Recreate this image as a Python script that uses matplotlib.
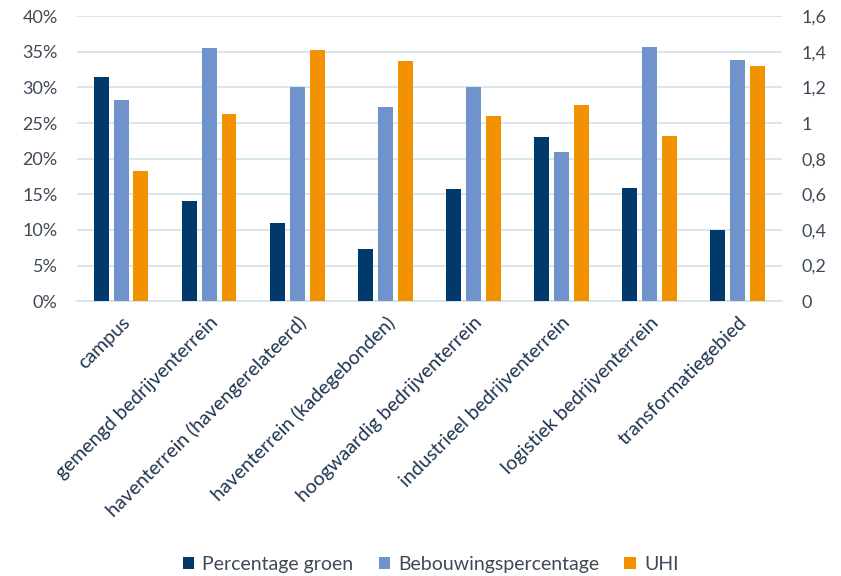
import numpy as np
import matplotlib.pyplot as plt
from matplotlib.ticker import FuncFormatter

plt.rcParams['font.family'] = ['Lato', 'DejaVu Sans']

categories = ['campus', 'gemengd bedrijventerrein', 'haventerrein (havengerelateerd)',
              'haventerrein (kadegebonden)', 'hoogwaardig bedrijventerrein',
              'industrieel bedrijventerrein', 'logistiek bedrijventerrein',
              'transformatiegebied']
groen = [31.5, 14.1, 11.0, 7.3, 15.8, 23.1, 15.9, 10.0]          # %
bebouwing = [28.3, 35.5, 30.0, 27.2, 30.0, 21.0, 35.6, 33.9]     # %
uhi = [0.73, 1.05, 1.41, 1.35, 1.04, 1.10, 0.93, 1.32]           # right axis

navy = '#003a6b'
lightblue = '#7093cb'
orange = '#f39200'
grid_col = '#d3e4ee'
text_col = '#404a57'

fig = plt.figure(figsize=(8.41, 5.76), dpi=100)
ax = fig.add_axes([0.0916, 0.477, 0.838, 0.495])
ax2 = ax.twinx()

x = np.arange(len(categories))
w = 0.17
step = 0.225
ax.bar(x - step, groen, w, color=navy, label='Percentage groen', zorder=3)
ax.bar(x, bebouwing, w, color=lightblue, label='Bebouwingspercentage', zorder=3)
ax2.bar(x + step, uhi, w, color=orange, label='UHI', zorder=3)

ax.set_xlim(-0.5, len(categories) - 0.5)
ax.set_ylim(0, 40)
ax.set_yticks(np.arange(0, 41, 5))
ax.yaxis.set_major_formatter(FuncFormatter(lambda v, p: f'{v:.0f}%'))
ax2.set_ylim(0, 1.6)
ax2.set_yticks(np.arange(0, 1.61, 0.2))
ax2.yaxis.set_major_formatter(
    FuncFormatter(lambda v, p: ('0' if abs(v) < 1e-9 else f'{v:g}'.replace('.', ','))))

ax.grid(axis='y', color=grid_col, linewidth=1.3, zorder=0)
ax.set_axisbelow(True)
for a in (ax, ax2):
    for s in a.spines.values():
        s.set_visible(False)
    a.tick_params(length=0, labelsize=13, labelcolor=text_col)
ax.spines['bottom'].set_visible(True)
ax.spines['bottom'].set_color(grid_col)
ax.spines['bottom'].set_linewidth(1.3)
ax.tick_params(axis='y', pad=14)
ax2.tick_params(axis='y', pad=14)

ax.set_xticks(x)
ax.set_xticklabels(categories, rotation=45, ha='right', rotation_mode='anchor',
                   fontsize=14, color='#1f3550')
ax.tick_params(axis='x', pad=9)

handles = [ax.patches[0], ax.patches[len(categories)], ax2.patches[0]]
labels = ['Percentage groen', 'Bebouwingspercentage', 'UHI']
fig.legend(handles, labels, loc='center', bbox_to_anchor=(0.512, 0.02), ncol=3,
           frameon=False, fontsize=14, handlelength=0.6, handleheight=0.6,
           handletextpad=0.4, columnspacing=1.3, labelcolor=text_col)

fig.savefig('out.png', dpi=100)
